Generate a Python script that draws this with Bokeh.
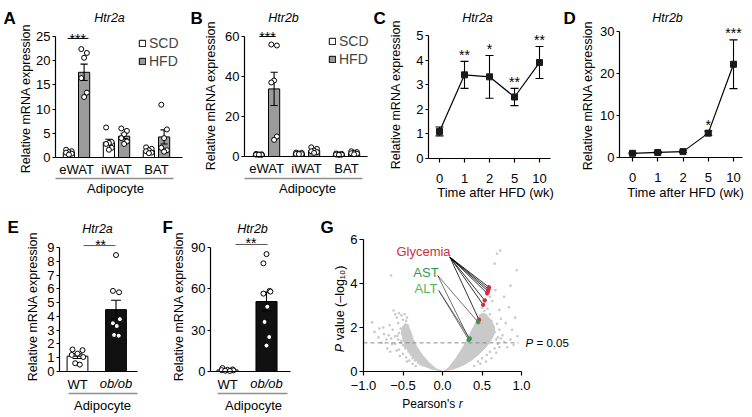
import numpy as np
from bokeh.plotting import figure
from bokeh.models import (Range1d, FixedTicker, LinearAxis, Label, Legend, LegendItem)
from bokeh.layouts import row, column
from bokeh.embed import file_html
from bokeh.resources import INLINE

# ---------------- data ----------------
groups = ["eWAT", "iWAT", "BAT"]
series = ["SCD", "HFD"]

# A  Htr2a, adipocytes, SCD vs HFD
a_scd_mean = [1.05, 3.13, 1.43]
a_scd_sem = [0.15, 0.65, 0.20]
a_hfd_mean = [17.6, 4.40, 4.25]
a_hfd_sem = [1.70, 0.50, 1.45]
a_scd_pts = [[1.6, 1.3, 1.1, 1.0, 0.8, 0.6], [6.2, 3.2, 3.0, 2.8, 2.0, 1.6], [2.1, 1.8, 1.5, 1.3, 1.0, 0.9]]
a_hfd_pts = [[22.4, 21.6, 20.6, 16.4, 13.4, 12.5], [6.0, 5.5, 4.8, 4.0, 3.3, 2.8], [10.9, 5.8, 4.0, 2.0, 1.5, 1.2]]
a_yticks = [0, 5, 10, 15, 20, 25]

# B  Htr2b
b_scd_mean = [1.0, 1.5, 1.1]
b_scd_sem = [0.10, 0.20, 0.15]
b_hfd_mean = [33.8, 3.0, 1.8]
b_hfd_sem = [8.3, 0.5, 0.3]
b_scd_pts = [[1.3, 1.1, 1.0, 0.9, 0.8, 0.9], [2.0, 1.8, 1.5, 1.3, 1.2, 1.2], [1.5, 1.3, 1.1, 1.0, 0.9, 0.8]]
b_hfd_pts = [[56.0, 55.5, 38.0, 37.0, 10.0, 8.3], [4.6, 3.8, 3.0, 2.6, 2.2, 1.8], [2.6, 2.2, 1.9, 1.6, 1.4, 1.1]]
b_yticks = [0, 20, 40, 60]

# C / D  time course after HFD
weeks = ["0", "1", "2", "5", "10"]
c_mean = [1.10, 3.40, 3.32, 2.50, 3.90]
c_sem = [0.18, 0.55, 0.87, 0.35, 0.65]
c_stars = ["", "**", "*", "**", "**"]
c_yticks = [0, 1, 2, 3, 4, 5]
d_mean = [1.0, 1.2, 1.4, 5.8, 22.2]
d_sem = [0.10, 0.15, 0.20, 0.50, 5.80]
d_stars = ["", "", "", "*", "***"]
d_yticks = [0, 10, 20, 30]

# E / F  WT vs ob/ob adipocytes
genotypes = ["WT", "ob/ob"]
e_mean = [1.11, 4.49]
e_sem = [0.17, 0.68]
e_wt_pts = [1.6, 1.55, 1.3, 1.2, 1.05, 0.6, 0.5]
e_ob_pts = [8.45, 5.85, 5.75, 3.8, 3.5, 3.3, 2.65, 2.6]
e_yticks = [0, 1, 2, 3, 4, 5, 6, 7, 8, 9]
f_mean = [1.1, 50.8]
f_sem = [0.30, 6.8]
f_wt_pts = [2.5, 1.5, 1.2, 1.0, 0.8, 0.6, 0.4]
f_ob_pts = [85.2, 78.5, 58.5, 58.0, 56.5, 47.0, 36.0, 25.0, 18.8]
f_yticks = [0, 30, 60, 90]

# G  correlation volcano (Pearson's r vs -log10 P)
dense_left_r = [-0.01, -0.15, -0.26, -0.35, -0.42, -0.47, -0.50, -0.52, -0.51, -0.47,
                -0.43, -0.40, -0.37, -0.32, -0.25, -0.17, -0.08]
dense_left_p = [0.02, 0.12, 0.30, 0.55, 0.85, 1.15, 1.45, 1.75, 2.00, 2.15,
                2.05, 1.80, 1.45, 1.10, 0.72, 0.40, 0.12]
dense_right_r = [0.02, 0.15, 0.27, 0.38, 0.48, 0.56, 0.62, 0.66, 0.66, 0.62, 0.55, 0.50,
                 0.45, 0.41, 0.36, 0.31, 0.25, 0.17, 0.08]
dense_right_p = [0.02, 0.12, 0.30, 0.55, 0.85, 1.15, 1.45, 1.75, 2.00, 2.30, 2.60, 2.65,
                 2.45, 2.15, 1.80, 1.42, 1.05, 0.60, 0.18]
cloud_r = [-0.89, -0.86, -0.81, -0.77, -0.74, -0.70, -0.67, -0.65, -0.62, -0.60, -0.58, -0.56, -0.55, -0.53,
           -0.52, -0.50, -0.49, -0.48, -0.63, -0.60, -0.57, -0.55, -0.52, -0.50, -0.48, -0.46, -0.46, -0.45,
           -0.47, -0.44, -0.42, -0.38, -0.34, -0.58, -0.66, -0.71, -0.64, -0.54, -0.45, -0.65,
           -0.40, -0.43, -0.47, -0.50, -0.53, -0.56, -0.60, -0.38, -0.35, -0.31, -0.28, -0.25, -0.55, -0.68,
           -0.75, -0.80,
           0.50, 0.53, 0.57, 0.60, 0.62, 0.55, 0.58, 0.64, 0.66, 0.69, 0.72, 0.74, 0.70, 0.76, 0.80, 0.84,
           0.88, 0.92, 0.95, 0.78, 0.82, 0.72, 0.68, 0.62, 0.55, 0.48, 0.40, 0.63, 0.67, 0.60, 0.69, 0.73,
           0.94, 0.66, 0.78, 0.86, 0.72, 0.48, 0.45, 0.52, 0.86, 0.90,
           0.45, 0.50, 0.56, 0.60, 0.66, 0.70, 0.74, 0.68]
cloud_p = [2.24, 1.80, 1.55, 1.30, 1.70, 1.05, 2.10, 1.50, 2.77, 2.60, 2.45, 2.20, 2.65, 1.95,
           2.55, 2.35, 2.05, 2.60, 1.90, 1.25, 1.62, 1.00, 1.40, 0.80, 1.15, 0.65, 2.30, 2.45,
           2.15, 2.10, 0.50, 0.35, 0.25, 0.95, 0.90, 1.45, 1.25, 0.70, 0.45, 4.36,
           0.75, 0.90, 1.05, 1.20, 1.30, 1.45, 1.60, 0.60, 0.50, 0.40, 0.33, 0.28, 1.75, 1.65,
           2.00, 1.95,
           2.90, 2.75, 2.85, 2.60, 2.30, 2.55, 2.15, 2.00, 1.80, 2.17, 1.90, 2.40, 1.55, 1.65, 2.20, 2.92,
           1.90, 2.45, 1.60, 1.35, 1.10, 1.10, 0.85, 0.60, 0.45, 0.35, 0.25, 3.20, 3.70, 3.40, 5.35, 5.50,
           4.60, 4.90, 3.40, 3.90, 2.80, 2.55, 2.35, 2.35, 1.45, 1.20,
           0.45, 0.60, 0.75, 0.90, 1.05, 1.25, 1.50, 1.45]
glyc_r = [0.588, 0.582, 0.576, 0.566, 0.535, 0.515, 0.462]
glyc_p = [3.83, 3.74, 3.65, 3.55, 3.23, 3.03, 2.35]
ast_r = [0.452, 0.338]
ast_p = [2.24, 1.47]
alt_r = [0.332, 0.345]
alt_p = [1.44, 1.50]
r_ticks = [-1.0, -0.5, 0.0, 0.5, 1.0]
g_yticks = [0, 2, 4, 6]
P_THRESHOLD = 0.05

# ---------------- style ----------------
FONT = "Liberation Sans"
TXT = "13px"
YLAB = "12.5px"
GRAY_BAR = "#9b9b9b"
DARK_BAR = "#111111"
CLOUD = "#c9c9c9"
RED = "#cf2e3e"
GREEN = "#2f9a4c"
LGREEN = "#52b55a"
H1, H2 = 200, 217


class Geo:
    """Pixel geometry of a panel: figure size, axis box (px) and data values at that box."""

    def __init__(s, w, h, fl, fr, ft, fb, xr, yr):
        s.w, s.h, s.fl, s.fr, s.ft, s.fb, s.xr, s.yr = w, h, fl, fr, ft, fb, xr, yr

    def dx(s, fx):
        return s.xr[0] + (fx - s.fl) * (s.xr[1] - s.xr[0]) / (s.fr - s.fl)

    def dy(s, fy):
        return s.yr[1] - (fy - s.ft) * (s.yr[1] - s.yr[0]) / (s.fb - s.ft)

    def fx(s, x):
        return s.fl + (x - s.xr[0]) * (s.fr - s.fl) / (s.xr[1] - s.xr[0])

    def fy(s, y):
        return s.ft + (s.yr[1] - y) * (s.fb - s.ft) / (s.yr[1] - s.yr[0])


def make_fig(g):
    p = figure(width=g.w, height=g.h,
               x_range=Range1d(g.dx(0), g.dx(g.w)), y_range=Range1d(g.dy(g.h), g.dy(0)),
               output_backend="svg", toolbar_location=None,
               x_axis_location=None, y_axis_location=None, min_border=0)
    p.min_border_left = p.min_border_right = p.min_border_top = p.min_border_bottom = 0
    p.outline_line_color = None
    p.grid.visible = False
    p.title.visible = False
    p.background_fill_color = "white"
    p.border_fill_color = "white"
    return p


def lab(p, g, fx, fy, text, size=TXT, style="normal", align="left", base="alphabetic",
        color="black", angle=0.0):
    p.add_layout(Label(x=g.dx(fx), y=g.dy(fy), text=text, text_font=FONT, text_font_size=size,
                       text_font_style=style, text_align=align, text_baseline=base,
                       text_color=color, angle=angle))


def style_axis(ax):
    ax.axis_line_color = "black"
    ax.axis_line_width = 1.2
    ax.major_tick_line_color = "black"
    ax.major_tick_line_width = 1.2
    ax.minor_tick_line_color = None
    ax.major_label_text_font = FONT
    ax.major_label_text_font_size = TXT
    ax.major_label_text_color = "black"


def yaxis(p, g, ticks, tick_out=3, standoff=2):
    ax = LinearAxis(ticker=FixedTicker(ticks=ticks), bounds=(ticks[0], ticks[-1]),
                    fixed_location=g.xr[0])
    style_axis(ax)
    ax.major_tick_out = tick_out
    ax.major_tick_in = 0
    ax.major_label_standoff = standoff
    p.add_layout(ax, "left")
    return ax


def xaxis(p, g, ticks, labels, standoff=4, tick_out=0, bounds=None):
    ticks = [float(t) for t in ticks]
    ax = LinearAxis(ticker=FixedTicker(ticks=ticks), fixed_location=g.yr[0],
                    bounds=bounds if bounds else (g.xr[0], g.xr[1]),
                    major_label_overrides={t: l for t, l in zip(ticks, labels)})
    style_axis(ax)
    ax.major_tick_out = tick_out
    ax.major_tick_in = 0
    if tick_out == 0:
        ax.major_tick_line_color = None
    ax.major_label_standoff = standoff
    p.add_layout(ax, "below")
    return ax


def ylabel(p, g, fx, fy, text="Relative mRNA expression"):
    lab(p, g, fx, fy, text, size=YLAB, align="center", base="middle", angle=np.pi / 2)


def underline(p, g, fx0, fx1, fy, text, tx, ty):
    p.segment([g.dx(fx0)], [g.dy(fy)], [g.dx(fx1)], [g.dy(fy)], line_color="#8f8f8f", line_width=1.5)
    lab(p, g, tx, ty, text, align="center", base="middle")


def errbars(p, x, m, e, cap, lw=1.1):
    x = np.asarray(x, float)
    m = np.asarray(m, float)
    e = np.asarray(e, float)
    p.segment(x, m - e, x, m + e, line_color="black", line_width=lw)
    p.segment(x - cap, m + e, x + cap, m + e, line_color="black", line_width=lw)
    p.segment(x - cap, m - e, x + cap, m - e, line_color="black", line_width=lw)


def dots(p, centers, pts_lists, jit, size=5):
    xs, ys = [], []
    for c, pts in zip(centers, pts_lists):
        for j, v in zip(jit, pts):
            xs.append(c + j)
            ys.append(v)
    p.scatter(xs, ys, marker="circle", size=size, fill_color="white", line_color="black", line_width=1)


def legend(p, rs, labels, vx, vy):
    lg = Legend(items=[LegendItem(label=l, renderers=[r]) for l, r in zip(labels, rs)], location=(vx, vy))
    lg.glyph_width = 8
    lg.glyph_height = 8
    lg.label_height = 15
    lg.label_standoff = 3
    lg.spacing = 2
    lg.padding = 0
    lg.margin = 0
    lg.border_line_color = None
    lg.background_fill_alpha = 0
    lg.label_text_font = FONT
    lg.label_text_font_size = "14px"
    p.add_layout(lg)


JIT6 = [-0.07, 0.07, 0.0, -0.07, 0.07, 0.0]


def bar_panel(g, letter, title, lx, tx, scd_m, scd_e, hfd_m, hfd_e, scd_pts, hfd_pts, yticks,
              ylab_xy, under, sig_x, sig_y, star_x, leg_xy):
    p = make_fig(g)
    xg = np.arange(1, len(groups) + 1, dtype=float)
    off, bw = 0.19, 0.28
    r1 = p.vbar(x=xg - off, top=scd_m, width=bw, fill_color="white", line_color="black", line_width=1)
    r2 = p.vbar(x=xg + off, top=hfd_m, width=bw, fill_color=GRAY_BAR, line_color="black", line_width=1)
    errbars(p, xg - off, scd_m, scd_e, 0.09)
    errbars(p, xg + off, hfd_m, hfd_e, 0.09)
    dots(p, xg - off, scd_pts, JIT6)
    dots(p, xg + off, hfd_pts, JIT6)
    yaxis(p, g, yticks)
    xaxis(p, g, xg, groups, standoff=4)
    ylabel(p, g, *ylab_xy)
    underline(p, g, *under)
    legend(p, [r1, r2], series, *leg_xy)
    p.segment([sig_x[0]], [sig_y], [sig_x[1]], [sig_y], line_color="black", line_width=1)
    lab(p, g, g.fx(star_x), g.fy(sig_y) + 0.5, "***", size="14px", align="center")
    lab(p, g, lx, 18, letter, size="17px", style="bold")
    lab(p, g, tx, 17, title, size=YLAB, style="italic", align="center")
    return p


# ---------------- A, B ----------------
gA = Geo(185, H1, 55, 182, 28, 157, (0.475, 3.65), (0, 26.65))
pA = bar_panel(gA, "A", "Htr2a", 3, 109, a_scd_mean, a_scd_sem, a_hfd_mean, a_hfd_sem,
               a_scd_pts, a_hfd_pts, a_yticks, (25, 98), (55, 173, 178, "Adipocyte", 115, 188),
               (0.78, 1.30), 24.6, 1.03, (138, 131))
gB = Geo(185, H1, 59, 182, 28, 156, (0.45, 3.525), (0, 64))
pB = bar_panel(gB, "B", "Htr2b", 5, 98, b_scd_mean, b_scd_sem, b_hfd_mean, b_hfd_sem,
               b_scd_pts, b_hfd_pts, b_yticks, (25, 95), (59, 177, 178, "Adipocyte", 122, 188),
               (0.82, 1.23), 60.0, 1.025, (143, 133))


# ---------------- C, D ----------------
def line_panel(g, letter, title, mean, sem, stars, yticks, ylab_xy, xlab_x):
    p = make_fig(g)
    xi = np.arange(len(weeks), dtype=float)
    p.line(xi, mean, line_color="black", line_width=1.2)
    errbars(p, xi, mean, sem, 0.16)
    p.scatter(xi, mean, marker="square", size=6, fill_color="#1a1a1a", line_color="#1a1a1a")
    yaxis(p, g, yticks)
    xaxis(p, g, xi, weeks, standoff=11, tick_out=4)
    ylabel(p, g, *ylab_xy)
    lab(p, g, xlab_x, 192, "Time after HFD (wk)", align="center", base="middle")
    for x, m, e, s in zip(xi, mean, sem, stars):
        if s:
            lab(p, g, g.fx(x), g.fy(m + e) - 6.5, s, size="14px", align="center")
    lab(p, g, 3, 18, letter, size="17px", style="bold")
    lab(p, g, 107, 17, title, size=YLAB, style="italic", align="center")
    return p


gC = Geo(190, H1, 58, 180, 35, 158, (-0.44, 4.44), (0, 5))
pC = line_panel(gC, "C", "Htr2a", c_mean, c_sem, c_stars, c_yticks, (25, 94), 125)
gD = Geo(192, H1, 59, 182, 31, 157, (-0.515, 4.356), (0, 30))
pD = line_panel(gD, "D", "Htr2b", d_mean, d_sem, d_stars, d_yticks, (27, 95), 125)


# ---------------- E, F ----------------
def geno_panel(g, letter, lx, title, tx, mean, sem, wt_pts, ob_pts, yticks, ylab_xy, under,
               sig_x, sig_y, star_x, cap):
    p = make_fig(g)
    xi = np.arange(len(genotypes), dtype=float)
    p.vbar(x=xi, top=mean, width=0.54, fill_color=["white", DARK_BAR], line_color="black", line_width=1)
    errbars(p, xi, mean, sem, cap)
    dots(p, [xi[0]], [wt_pts], [-0.13, 0.13, 0.0, -0.15, 0.15, -0.06, 0.06])
    dots(p, [xi[1]], [ob_pts], [0.0, -0.08, 0.08, 0.1, -0.08, 0.02, -0.05, 0.07, 0.0, 0.0])
    yaxis(p, g, yticks)
    xaxis(p, g, [xi[0]], [genotypes[0]], standoff=5)
    lab(p, g, g.fx(xi[1]), 183, genotypes[1], style="italic", align="center", base="middle")
    ylabel(p, g, *ylab_xy)
    underline(p, g, *under)
    p.segment([sig_x[0]], [sig_y], [sig_x[1]], [sig_y], line_color="#555555", line_width=1)
    lab(p, g, g.fx(star_x), g.fy(sig_y) - 1, "**", size="14px", align="center")
    lab(p, g, lx, 27, letter, size="17px", style="bold")
    lab(p, g, tx, 28, title, size=YLAB, style="italic", align="center")
    return p


gE = Geo(160, H2, 59, 137, 35, 171, (-0.4675, 1.5585), (0, 9.87))
pE = geno_panel(gE, "E", 7, "Htr2a", 97, e_mean, e_sem, e_wt_pts, e_ob_pts, e_yticks, (32, 106),
                (68, 137, 193, "Adipocyte", 102, 205), (0.156, 0.987), 9.14, 0.6, 0.13)
gF = Geo(140, H2, 50, 130, 35, 171, (-0.436, 1.615), (0, 98.7))
pF = geno_panel(gF, "F", 2, "Htr2b", 92, f_mean, f_sem, f_wt_pts, f_ob_pts, f_yticks, (18, 106),
                (57, 127, 193, "Adipocyte", 93, 205), (0.205, 1.026), 92.2, 0.6, 0.13)

# ---------------- G ----------------
gG = Geo(452, H2, 63, 221, 35, 171, (-1.0, 1.0), (0, 6.18))
pG = make_fig(gG)
pG.patch(dense_left_r, dense_left_p, fill_color=CLOUD, line_color=CLOUD, line_width=1)
pG.patch(dense_right_r, dense_right_p, fill_color=CLOUD, line_color=CLOUD, line_width=1)
pG.scatter(cloud_r, cloud_p, size=2.6, color=CLOUD, line_color=None)
thr = -np.log10(P_THRESHOLD)
pG.segment([gG.xr[0]], [thr], [gG.dx(218)], [thr], line_color="#8a8a8a", line_dash="4 3", line_width=1)
GLY_FROM, AST_FROM, ALT_FROM = (0.093, 5.2), (-0.06, 4.36), (-0.047, 3.68)
pG.segment([GLY_FROM[0]] * len(glyc_r), [GLY_FROM[1]] * len(glyc_r), glyc_r, glyc_p,
           line_color="black", line_width=0.8)
pG.segment([AST_FROM[0]] * len(ast_r), [AST_FROM[1]] * len(ast_r), ast_r, ast_p,
           line_color="#333333", line_width=0.7)
pG.segment([ALT_FROM[0]] * len(alt_r), [ALT_FROM[1]] * len(alt_r), alt_r, alt_p,
           line_color="#333333", line_width=0.7)
pG.scatter(glyc_r, glyc_p, size=3.5, color=RED)
pG.scatter(ast_r + alt_r, ast_p + alt_p, size=3.5, color=GREEN)
yaxis(pG, gG, g_yticks, tick_out=4, standoff=2)
xaxis(pG, gG, r_ticks, ["{:.1f}".format(t).replace("-", "\u2212") for t in r_ticks],
      standoff=5, tick_out=4)
lab(pG, gG, 20, 27, "G", size="17px", style="bold")
lab(pG, gG, 123, 50.5, "Glycemia", color=RED, align="center")
lab(pG, gG, 125.5, 71.7, "AST", color=GREEN, align="center")
lab(pG, gG, 125.5, 88, "ALT", color=LGREEN, align="center")
# y label: P value (-log10)
lab(pG, gG, 39, 143.3, "P", size=YLAB, style="italic", align="right", base="middle", angle=np.pi / 2)
lab(pG, gG, 39, 139.8, "value (\u2013log\u2081\u2080)", size=YLAB, align="left", base="middle", angle=np.pi / 2)
# x label: Pearson's r
lab(pG, gG, 154.7, 203, "Pearson's", size="12px", align="right", base="middle")
lab(pG, gG, 158.2, 203, "r", size="12px", style="italic", align="left", base="middle")
# P = 0.05
fy_thr = gG.fy(thr)
lab(pG, gG, 225, fy_thr, "P", size="11.5px", style="italic", base="middle")
lab(pG, gG, 236, fy_thr, "= 0.05", size="11.5px", base="middle")

layout = column(row(pA, pB, pC, pD, spacing=0), row(pE, pF, pG, spacing=0), spacing=0)
open("out.html", "w").write(file_html(layout, INLINE))
